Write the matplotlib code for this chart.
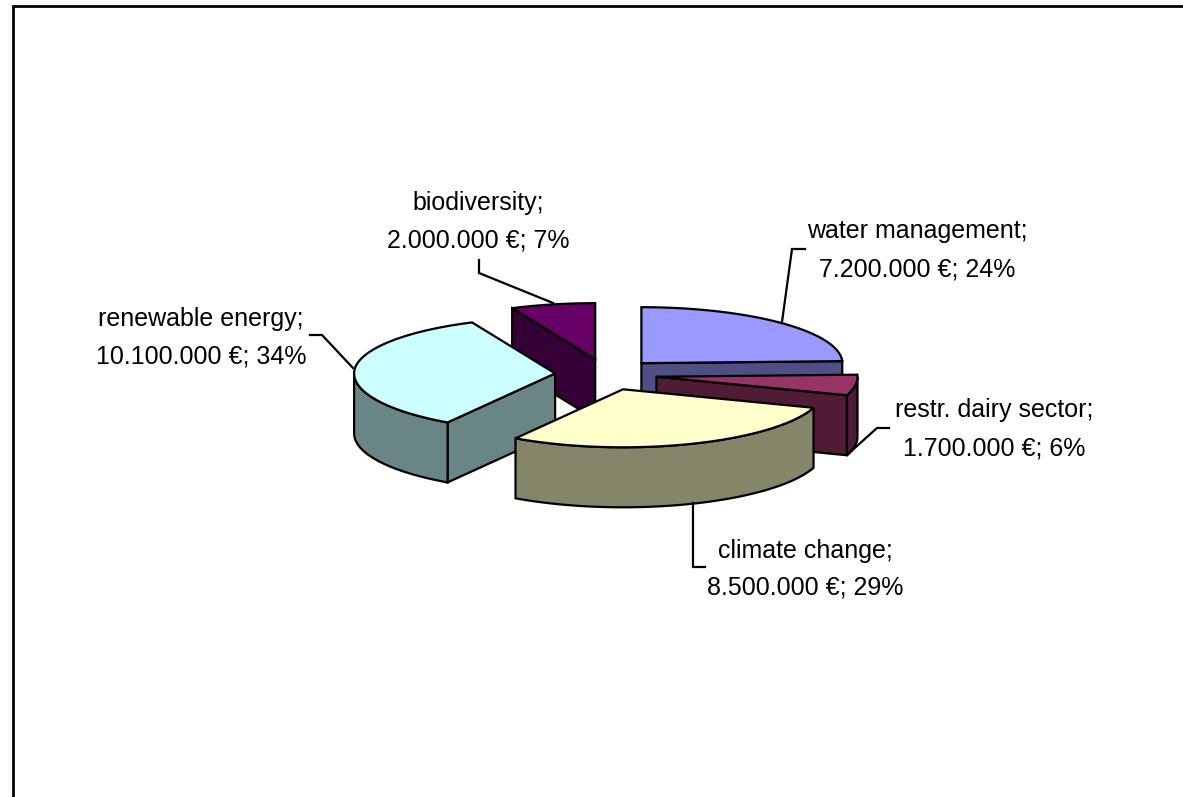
import numpy as np
import matplotlib
matplotlib.use("Agg")
import matplotlib.pyplot as plt
from matplotlib.patches import Polygon

plt.rcParams['font.family'] = ['Liberation Sans', 'DejaVu Sans']

# Data (clockwise from 12 o'clock)
categories = ['water management', 'restr. dairy sector', 'climate change', 'renewable energy', 'biodiversity']
values = [7200000, 1700000, 8500000, 10100000, 2000000]

top_colors = ['#9999FF', '#993366', '#FFFFCC', '#CCFFFF', '#660066']
wall_colors = ['#4F4F85', '#4F1B35', '#858569', '#698585', '#350035']

# pie geometry in pixels
cx, cy = 606, 374.5
rx, ry_back, ry_front = 201, 56, 58
ex_x, ex_y = 51, 15.7
depth = 60

# back to front
draw_order = [4, 0, 1, 3, 2]

# label centre x, first and second baseline
label_pos = [(917, 238, 277), (994, 417, 455), (805, 558, 594), (201, 326, 363), (478, 210, 247)]
leaders = [
    [(782, 322), (792, 249), (805, 249)],
    [(847, 455), (877, 428), (889, 428)],
    [(693, 503), (693, 567), (705, 567)],
    [(353, 368), (322, 335), (310, 335)],
    [(553, 303), (479, 273), (479, 260)],
]


def rim(apex, theta):
    ry = np.where(np.cos(theta) > 0, ry_back, ry_front)
    return np.column_stack([apex[0] + rx * np.sin(theta), apex[1] - ry * np.cos(theta)])


def add_poly(ax, pts, color):
    ax.add_patch(Polygon(pts, closed=True, facecolor=color, edgecolor='black',
                         linewidth=1.6, joinstyle='miter'))


def draw_wedge(ax, start, end, top, wall):
    mid = (start + end) / 2
    apex = np.array([cx + ex_x * np.sin(mid), cy - ex_y * np.cos(mid)])
    drop = np.array([0, depth])
    # radial walls that face the viewer
    for ang, visible in [(start, np.sin(start) < -1e-6), (end, np.sin(end) > 1e-6)]:
        if visible:
            p = rim(apex, np.array([ang]))[0]
            add_poly(ax, [apex, p, p + drop, apex + drop], wall)
    # outer wall, front half only
    a0, a1 = max(start, np.pi / 2), min(end, 3 * np.pi / 2)
    if a1 > a0:
        arc = rim(apex, np.linspace(a0, a1, 80))
        add_poly(ax, np.vstack([arc, arc[::-1] + drop]), wall)
    arc = rim(apex, np.linspace(start, end, 160))
    add_poly(ax, np.vstack([[apex], arc]), top)


fig = plt.figure(figsize=(11.83, 7.97), dpi=100)
ax = fig.add_axes([0, 0, 1, 1])
ax.set_xlim(0, 1183)
ax.set_ylim(797, 0)
ax.axis('off')

# chart frame, runs off the right and bottom of the picture
ax.plot([13, 13, 1183], [797, 6, 6], color='black', linewidth=2, solid_joinstyle='miter')

total = sum(values)
edges = np.concatenate([[0], np.cumsum(values)]) / total * 2 * np.pi
for i in draw_order:
    draw_wedge(ax, edges[i], edges[i + 1], top_colors[i], wall_colors[i])

for i, name in enumerate(categories):
    xs, ys = zip(*leaders[i])
    ax.plot(xs, ys, color='black', linewidth=1.6, solid_joinstyle='miter')
    x, y1, y2 = label_pos[i]
    money = f"{values[i]:,}".replace(',', '.')
    pct = round(100 * values[i] / total)
    ax.text(x, y1, name + ';', ha='center', va='baseline', fontsize=18, color='black')
    ax.text(x, y2, f"{money} €; {pct}%", ha='center', va='baseline', fontsize=18, color='black')

fig.savefig('out.png', dpi=100, facecolor='white')
